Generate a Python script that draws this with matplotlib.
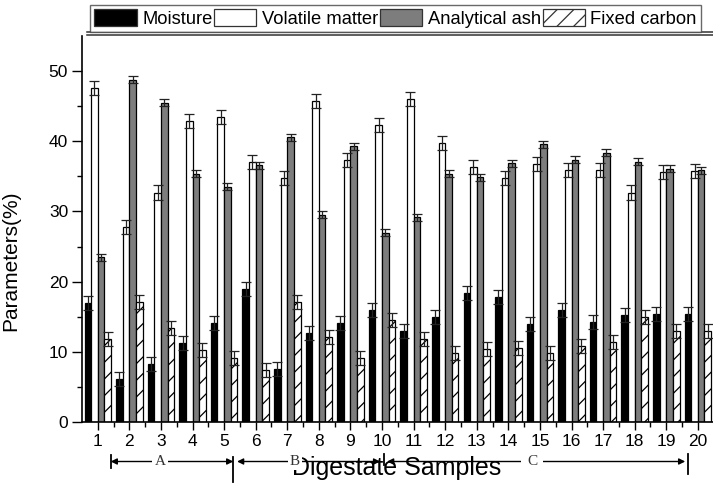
import numpy as np
import matplotlib.pyplot as plt
from matplotlib.lines import Line2D
from matplotlib.patches import Patch
import matplotlib.transforms as mtransforms

plt.rcParams['font.family'] = ['Liberation Sans', 'DejaVu Sans']
plt.rcParams['hatch.linewidth'] = 0.9

# data
samples = list(range(1, 21))
moisture = [17.0, 6.1, 8.2, 11.3, 14.1, 19.0, 7.5, 12.7, 14.1, 16.0,
            12.9, 15.0, 18.4, 17.8, 13.9, 16.0, 14.3, 15.2, 15.4, 15.4]
volatile = [47.6, 27.8, 32.7, 42.9, 43.4, 37.0, 34.8, 45.7, 37.4, 42.3,
            46.0, 39.8, 36.3, 34.7, 36.7, 35.9, 35.9, 32.7, 35.6, 35.7]
ash = [23.5, 48.8, 45.5, 35.4, 33.5, 36.6, 40.6, 29.5, 39.3, 27.0,
       29.2, 35.4, 34.9, 36.9, 39.6, 37.4, 38.4, 37.1, 36.1, 35.9]
fixed = [11.8, 17.1, 13.4, 10.3, 9.1, 7.4, 17.1, 12.1, 9.1, 14.6,
         11.8, 9.8, 10.4, 10.6, 9.8, 10.8, 11.4, 14.9, 12.9, 12.9]
moisture_err = [1.0] * 20
volatile_err = [1.0] * 20
ash_err = [0.5] * 20
fixed_err = [1.0] * 20

series_names = ["Moisture", "Volatile matter", "Analytical ash", "Fixed carbon"]

# groups of samples shown under the axis: (label, start, end)
groups = [("A", 1.41, 5.29), ("B", 5.41, 9.94), ("C", 10.16, 19.6)]
group_marks = [1.41, 5.29, 10.06, 19.69]

fig = plt.figure(figsize=(7.13, 4.84), dpi=100)
ax = fig.add_axes([82 / 713, 1 - 422 / 484, 631 / 713, 386 / 484])

x = np.array(samples)
w = 0.21
styles = [
    dict(color='black', edgecolor='black'),
    dict(color='white', edgecolor='black'),
    dict(color='#7d7d7d', edgecolor='black'),
    dict(color='white', edgecolor='black', hatch='//'),
]
values = [moisture, volatile, ash, fixed]
errs = [moisture_err, volatile_err, ash_err, fixed_err]
for i in range(4):
    ax.bar(x + (i - 1.5) * w, values[i], w, linewidth=0.9, **styles[i])
    ax.errorbar(x + (i - 1.5) * w, values[i], yerr=errs[i], fmt='none',
                ecolor='#222222', elinewidth=0.9, capsize=3.6, capthick=0.9)

ax.set_xlim(0.5, 20.48)
ax.set_ylim(0, 55)
ax.set_xticks(samples)
ax.set_xticks(np.arange(1.5, 20.5, 1), minor=True)
ax.set_yticks(range(0, 51, 10))
ax.set_yticks(range(5, 55, 10), minor=True)
ax.tick_params(axis='x', which='major', length=6, width=1, pad=3, labelsize=12.5)
ax.tick_params(axis='x', which='minor', length=3.5, width=1)
ax.tick_params(axis='y', which='major', length=7, width=1, pad=3, labelsize=12.5)
ax.tick_params(axis='y', which='minor', length=3.5, width=1)
for side in ['top', 'right']:
    ax.spines[side].set_visible(False)
ax.spines['left'].set_linewidth(1.2)
ax.spines['bottom'].set_linewidth(1.2)

ax.set_ylabel("Parameters(%)", fontsize=15)
ax.yaxis.set_label_coords(-0.098, 0.418)
ax.set_xlabel("Digestate Samples", fontsize=18)
ax.xaxis.set_label_coords(0.498, -0.088)

# double line under the legend
for ypx in [32, 35]:
    fig.add_artist(Line2D([87 / 713, 1.0], [1 - ypx / 484] * 2,
                          transform=fig.transFigure, color='#333333', lw=1.1))

# sample group brackets
trans = mtransforms.blended_transform_factory(ax.transData, fig.transFigure)
arrow_y = 1 - 461.5 / 484
for label, x0, x1 in groups:
    ax.annotate('', xy=(x1, arrow_y), xytext=(x0, arrow_y),
                xycoords=trans, textcoords=trans, annotation_clip=False,
                arrowprops=dict(arrowstyle='<|-|>', color='black', lw=1,
                                mutation_scale=9, shrinkA=0, shrinkB=0))
label_x = {"A": 2.97, "B": 7.24, "C": 14.75}
for label, x0, x1 in groups:
    ax.text(label_x[label], arrow_y, label, transform=trans, ha='center',
            va='center', fontsize=11, family='Liberation Serif', color='#333333',
            bbox=dict(facecolor='white', edgecolor='none',
                      pad=4 if label == "C" else 1.5))
mark_spans = [(455, 468), (457, 482), (454, 465), (454, 474)]
for xm, (y0, y1) in zip(group_marks, mark_spans):
    ax.add_artist(Line2D([xm, xm], [1 - y0 / 484, 1 - y1 / 484], transform=trans,
                         color='black', lw=1.3, clip_on=False))
# keep the axis title above the B bracket, as in the source
ax.xaxis.label.set_zorder(5)

handles = [Patch(facecolor=s['color'], edgecolor='#333333', hatch=s.get('hatch'),
                 linewidth=0.9) for s in styles]
fig.legend(handles, series_names, loc='center', ncol=4,
           bbox_to_anchor=((87 + 704) / 2 / 713, 1 - 18.5 / 484),
           fontsize=13.2, frameon=True, fancybox=False, edgecolor='#444444',
           handlelength=2.3, handleheight=1.0, handletextpad=0.3,
           columnspacing=0.1, borderpad=0.25, borderaxespad=0)

fig.savefig('out.png', dpi=100)
